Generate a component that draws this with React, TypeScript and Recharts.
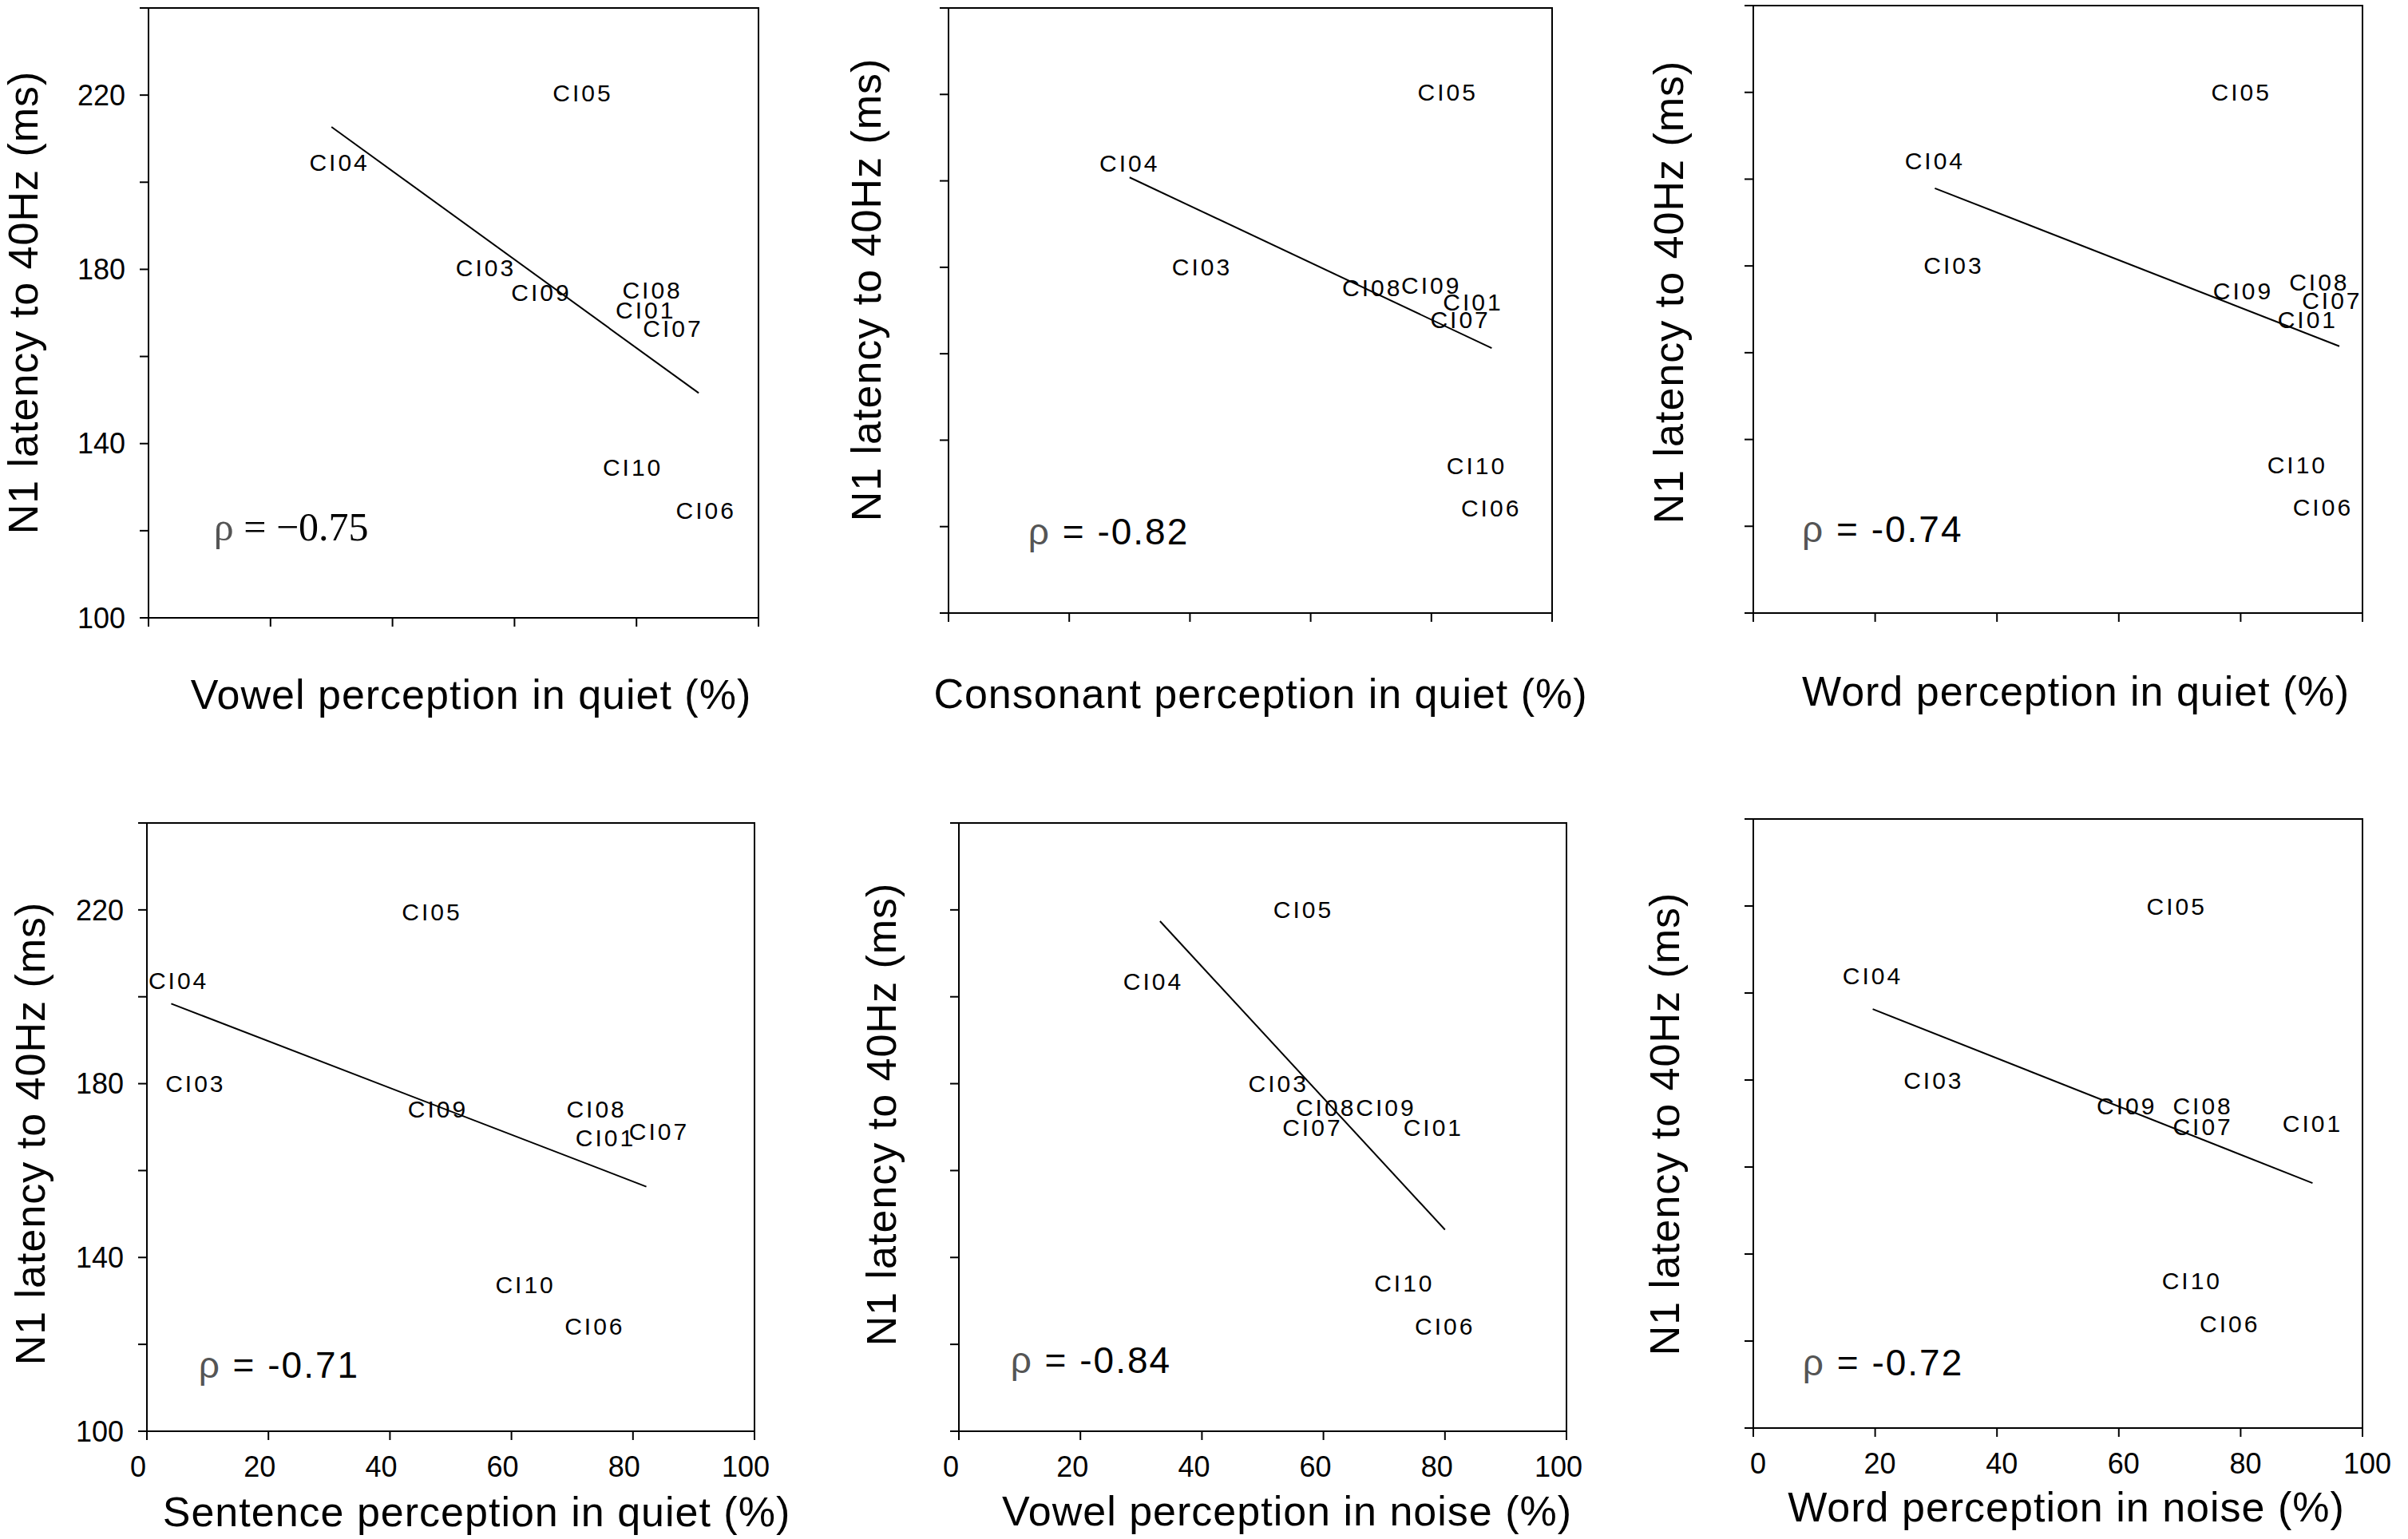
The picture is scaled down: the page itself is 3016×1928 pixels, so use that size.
import React from "react";
import {
  ScatterChart,
  Scatter,
  XAxis,
  YAxis,
  ReferenceLine,
  ReferenceArea,
  ReferenceDot,
} from "recharts";

const subjects = ["CI01", "CI03", "CI04", "CI05", "CI06", "CI07", "CI08", "CI09", "CI10"];

// label centres: x = perception score (%), y = N1 latency (ms)
const vowelQuietX = [81.5, 55.3, 31.3, 71.2, 91.4, 86.0, 82.6, 64.4, 79.4];
const vowelQuietY = [170.6, 180.4, 204.5, 220.5, 124.6, 166.5, 175.2, 174.6, 134.6];
const vowelQuietFit = [[30.0, 212.7], [90.2, 151.6]];

const consonantQuietX = [86.9, 42.0, 30.0, 82.7, 89.9, 84.8, 70.2, 80.0, 87.5];
const consonantQuietY = [171.9, 180.0, 204.1, 220.5, 124.3, 167.8, 175.3, 175.9, 134.0];
const consonantQuietFit = [[30.0, 200.8], [90.0, 161.3]];

const wordQuietX = [91.0, 32.9, 29.8, 80.1, 93.5, 95.0, 92.9, 80.4, 89.3];
const wordQuietY = [167.6, 180.2, 204.2, 220.0, 124.3, 172.0, 176.3, 174.2, 134.1];
const wordQuietFit = [[29.8, 197.9], [96.2, 161.5]];

const sentenceQuietX = [75.5, 8.0, 5.2, 46.9, 73.7, 84.3, 74.0, 47.9, 62.3];
const sentenceQuietY = [167.6, 180.0, 203.8, 219.6, 124.1, 169.0, 174.2, 174.2, 133.7];
const sentenceQuietFit = [[4.0, 198.4], [82.2, 156.3]];

const vowelNoiseX = [78.1, 52.6, 32.0, 56.7, 80.0, 58.2, 60.4, 70.3, 73.3];
const vowelNoiseY = [169.9, 180.0, 203.6, 220.0, 124.1, 169.9, 174.5, 174.5, 134.1];
const vowelNoiseFit = [[33.1, 217.4], [80.0, 146.4]];

const wordNoiseX = [91.8, 29.6, 19.6, 69.5, 78.2, 73.8, 73.8, 61.3, 72.0];
const wordNoiseY = [170.0, 180.0, 203.9, 220.0, 124.0, 169.3, 174.0, 174.0, 133.8];
const wordNoiseFit = [[19.6, 196.3], [91.8, 156.3]];

const rhoValues = ["\u22120.75", "-0.82", "-0.74", "-0.71", "-0.84", "-0.72"];
const rhoAt = [[10.7, 120.9], [13.2, 118.8], [8.0, 119.3], [8.5, 115.2], [8.5, 116.3], [8.1, 115.0]];

const xTitles = [
  "Vowel perception in quiet (%)",
  "Consonant perception in quiet (%)",
  "Word perception in quiet (%)",
  "Sentence perception in quiet (%)",
  "Vowel perception in noise (%)",
  "Word perception in noise (%)",
];
const yTitle = "N1 latency to 40Hz (ms)";
const xTicks = [0, 20, 40, 60, 80, 100];
const yTicks = [100, 120, 140, 160, 180, 200, 220, 240];

const series = [
  [vowelQuietX, vowelQuietY, vowelQuietFit],
  [consonantQuietX, consonantQuietY, consonantQuietFit],
  [wordQuietX, wordQuietY, wordQuietFit],
  [sentenceQuietX, sentenceQuietY, sentenceQuietFit],
  [vowelNoiseX, vowelNoiseY, vowelNoiseFit],
  [wordNoiseX, wordNoiseY, wordNoiseFit],
];

// plot boxes in page pixels, title centres, x tick label nudge
const layout = [
  { left: 186, top: 10, w: 764, h: 764, xt: [590, 870], yt: [29, 379], tdx: 0 },
  { left: 1188, top: 10, w: 756, h: 758, xt: [1579, 869], yt: [1085, 363], tdx: 0 },
  { left: 2196, top: 7, w: 763, h: 761, xt: [2600, 866], yt: [2090, 366], tdx: 0 },
  { left: 184, top: 1031, w: 761, h: 762, xt: [597, 1894], yt: [38, 1420], tdx: -11 },
  { left: 1201, top: 1031, w: 761, h: 762, xt: [1612, 1893], yt: [1104, 1396], tdx: -10 },
  { left: 2196, top: 1026, w: 763, h: 763, xt: [2588, 1888], yt: [2085, 1408], tdx: 6 },
];

const FONT = "'Liberation Sans', Arial, sans-serif";
const SERIF = "'Liberation Serif', 'Times New Roman', serif";
const Y_W = 180;
const M_TOP = 20;
const M_RIGHT = 60;
const X_H = 100;

function Panel({ idx }: { idx: number }) {
  const box = layout[idx];
  const [xs, ys, fit] = series[idx] as [number[], number[], number[][]];
  const points = subjects.map((name, i) => ({ name, x: xs[i], y: ys[i] }));
  const showX = idx >= 3;
  const showY = idx % 3 === 0;
  const serifRho = idx === 0;
  const axisStyle = { stroke: "#000", strokeWidth: 2 };

  return (
    <div
      style={{
        position: "absolute",
        left: box.left - Y_W,
        top: box.top - M_TOP,
      }}
    >
      <ScatterChart
        width={Y_W + box.w + M_RIGHT}
        height={M_TOP + box.h + X_H}
        margin={{ top: M_TOP, right: M_RIGHT, left: 0, bottom: 0 }}
      >
        <XAxis
          type="number"
          dataKey="x"
          domain={[0, 100]}
          ticks={xTicks}
          interval={0}
          height={X_H}
          tickSize={11}
          tickMargin={20}
          axisLine={axisStyle}
          tickLine={axisStyle}
          tick={{ fontSize: 36, fill: "#000", fontFamily: FONT, dx: box.tdx }}
          tickFormatter={(v: number) => (showX ? String(v) : "")}
        />
        <YAxis
          type="number"
          dataKey="y"
          domain={[100, 240]}
          ticks={yTicks}
          interval={0}
          width={Y_W}
          tickSize={11}
          tickMargin={18}
          axisLine={axisStyle}
          tickLine={axisStyle}
          tick={{ fontSize: 36, fill: "#000", fontFamily: FONT }}
          tickFormatter={(v: number) => (showY && (v - 100) % 40 === 0 ? String(v) : "")}
        />
        <ReferenceArea
          x1={0}
          x2={100}
          y1={100}
          y2={240}
          fill="none"
          fillOpacity={0}
          stroke="#000"
          strokeWidth={2}
        />
        <ReferenceLine
          segment={[
            { x: fit[0][0], y: fit[0][1] },
            { x: fit[1][0], y: fit[1][1] },
          ]}
          stroke="#000"
          strokeWidth={2}
        />
        <Scatter
          data={points}
          isAnimationActive={false}
          shape={(p: any) => (
            <text
              x={p.cx}
              y={p.cy}
              textAnchor="middle"
              dominantBaseline="central"
              fontSize={30}
              letterSpacing={3}
              fontFamily={FONT}
              fill="#000"
            >
              {p.payload.name}
            </text>
          )}
        />
        <ReferenceDot
          x={rhoAt[idx][0]}
          y={rhoAt[idx][1]}
          r={0}
          shape={(p: any) => (
            <text
              x={p.cx}
              y={p.cy}
              dominantBaseline="central"
              fontSize={serifRho ? 50 : 46}
              letterSpacing={serifRho ? 0 : 2}
              fontFamily={serifRho ? SERIF : FONT}
              fill="#000"
            >
              <tspan fill="#555">{"\u03c1"}</tspan>
              {` = ${rhoValues[idx]}`}
            </text>
          )}
        />
      </ScatterChart>
    </div>
  );
}

const titleStyle: React.CSSProperties = {
  position: "absolute",
  fontFamily: FONT,
  fontSize: 52,
  letterSpacing: 1,
  lineHeight: 1,
  whiteSpace: "nowrap",
  color: "#000",
};

export default function App() {
  return (
    <div
      style={{
        position: "absolute",
        left: 0,
        top: 0,
        width: 3016,
        height: 1928,
        background: "#fff",
        fontFamily: FONT,
        overflow: "hidden",
      }}
    >
      {layout.map((box, i) => (
        <React.Fragment key={i}>
          <Panel idx={i} />
          <div
            style={{
              ...titleStyle,
              left: box.xt[0],
              top: box.xt[1],
              transform: "translate(-50%, -50%)",
            }}
          >
            {xTitles[i]}
          </div>
          <div
            style={{
              ...titleStyle,
              left: box.yt[0],
              top: box.yt[1],
              transform: "translate(-50%, -50%) rotate(-90deg)",
            }}
          >
            {yTitle}
          </div>
        </React.Fragment>
      ))}
    </div>
  );
}
